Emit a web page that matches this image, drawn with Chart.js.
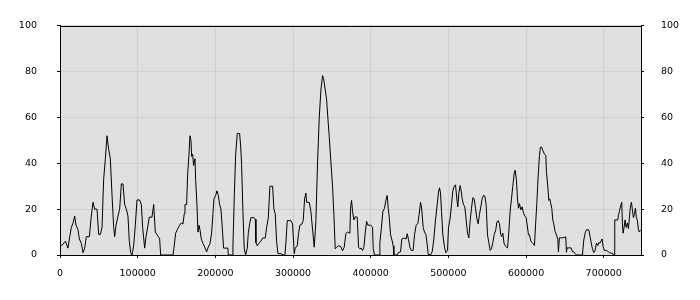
<!DOCTYPE html>
<html>
<head>
<meta charset="utf-8">
<script src="https://cdn.jsdelivr.net/npm/chart.js"></script>
<style>
  body { margin: 0; background: #fff; }
</style>
</head>
<body>
<canvas id="chart" width="700" height="300"></canvas>
<script>
// x positions of the samples
const xValues = [
    0, 2000, 6900, 10300, 12500, 14600, 16800, 18900, 20600, 23200, 24900, 27500, 29600, 31800, 33900, 37800,
    40000, 42500, 44650, 47650, 49800, 52000, 54100, 56200, 58400, 60500, 62700, 64800, 67000, 69100, 70400,
    72100, 74700, 76800, 79000, 81100, 83250, 85400, 87500, 89250, 91000, 92700, 94800, 97000, 99100, 102600,
    104700, 106400, 109000, 110700, 113300, 115000, 118400, 120600, 122700, 126600, 128300, 129600, 145450,
    146700, 148900, 151000, 154000, 156200, 158300, 160000, 160900, 163000, 164300, 166000, 167300, 168600,
    169500, 170800, 172000, 173800, 174600, 176300, 177600, 178900, 180200, 181900, 184100, 186200, 188800,
    190900, 193100, 195200, 196900, 198200, 200400, 202100, 203800, 205500, 207200, 208900, 210600, 216200,
    216650, 221800, 222650, 224400, 226100, 228200, 231200, 232500, 233800, 235500, 237200, 239000, 241100,
    242400, 244100, 245800, 249700, 251400, 252250, 253960, 256540, 258680, 260830, 264260, 265970, 268120,
    270260, 273700, 275410, 277120, 278840, 280560, 284420, 287420, 289560, 290850, 292560, 297280, 299430,
    301570, 302860, 305430, 307150, 308860, 311440, 313150, 314870, 316580, 317440, 320870, 323020, 326020,
    327310, 329450, 331600, 333740, 335890, 338030, 339320, 341460, 343180, 344890, 346610, 348750, 350900,
    352610, 354330, 356040, 358620, 361620, 363760, 365910, 368050, 370190, 373200, 374070, 375360, 376640,
    378360, 380070, 382650, 384360, 386080, 387790, 389510, 391230, 392940, 394660, 396370, 399800, 402380,
    403240, 404950, 410960, 411810, 413530, 415670, 417820, 419530, 421250, 422540, 423820, 425540, 427680,
    428970, 429830, 434120, 435400, 438400, 440120, 442690, 445700, 446980, 448700, 450410, 452130, 454700,
    456420, 458560, 460710, 462420, 464140, 465420, 467570, 469280, 471000, 472720, 474000, 477010, 479150,
    481300, 483440, 485590, 487300, 488590, 489870, 491160, 492870, 495020, 496730, 498890, 500180, 502320,
    504040, 505750, 507470, 509180, 510900, 512190, 513470, 515190, 516480, 517760, 519480, 521190, 522910,
    524620, 526340, 528060, 529770, 531490, 533200, 534920, 536630, 538350, 540060, 541780, 543500, 545210,
    546930, 548640, 550360, 552070, 553790, 555500, 557220, 558940, 561080, 562370, 564080, 565800, 567510,
    568800, 570090, 571800, 573950, 576090, 577810, 579520, 581240, 582950, 584670, 585960, 587670, 588960,
    590250, 591530, 593250, 594960, 596680, 598390, 600110, 601830, 603110, 604400, 606120, 607830, 609550,
    610830, 612120, 613840, 615550, 617270, 618550, 620270, 621560, 623710, 625430, 626280, 628000, 629290,
    630570, 631860, 633150, 634430, 635720, 637430, 639150, 640870, 641720, 643010, 647300, 651160, 652020,
    652870, 658020, 659740, 661450, 663170, 664880, 672600, 674320, 676040, 677750, 680750, 682470, 684180,
    685470, 687190, 688900, 690620, 692330, 693620, 695330, 696620, 697910, 699200, 700910, 703480, 706060,
    707350, 711640, 712490, 713350, 714210, 718070, 718920, 720210, 721500, 723210, 724070, 724930, 726210,
    727500, 728790, 730500, 731790, 733080, 734360, 735650, 736940, 738220, 739510, 740800, 742080, 743370,
    744660, 745950, 747230
];

// sample values (0-100)
const yValues = [
    4, 4, 6, 3, 8, 12, 14, 17, 13, 11, 7, 5, 1, 3, 8, 8,
    16, 23, 20, 20, 9, 9, 12, 33, 42, 52, 46, 42, 26, 12, 8,
    13, 17, 20, 31, 31, 22, 20, 17, 6, 1, 0, 4, 13, 24, 24,
    22, 12, 3, 8, 13, 16.5, 16.5, 22, 10, 8, 7, 0, 0,
    3, 9.5, 11, 13, 14, 13.5, 18, 22, 22, 35, 43.5, 52, 50,
    43, 44, 39, 42, 33, 22, 10, 13, 11, 7, 5, 3.5, 1.4,
    3.5, 5, 9.5, 18, 24.5, 26, 28, 26, 22, 20, 12, 3, 3,
    0, 0, 4, 26, 43.5, 53, 53, 48, 39.5, 19, 2.7, 0, 3,
    9.5, 13.6, 16.3, 16.3, 15.6, 5.4, 4, 5.4, 6, 7.4, 7.4, 12, 16,
    30, 30, 20, 18, 6, 0.6, 0.6, 0, 0, 5.4, 15, 15, 13.5,
    0.6, 3, 4, 9.4, 13, 13.5, 15, 24.4, 27, 23, 23, 19, 8,
    3.4, 15, 40.6, 59.7, 72, 78.2, 77, 72, 68, 59.7, 51.7, 40.6, 30,
    17.6, 2.7, 3.4, 4, 3.7, 1.8, 3.4, 9.4, 10, 9.5, 20.4, 23.8, 19,
    15.3, 16.7, 16.5, 3.4, 2.7, 3, 2, 3.4, 9.5, 14.7, 13, 13, 12.2,
    2.7, 0, 0, 5.4, 11, 19, 20.4, 23.8, 26, 20.4, 16.7, 8.8, 6.1,
    4, 0, 0, 1, 1.4, 7, 7.4, 7, 9.3, 6.8, 3.4, 2, 2,
    8.8, 13, 13.8, 17.7, 23, 21, 12, 10, 9, 4.8, 0.3, 0, 1.4,
    7, 15.3, 22, 27.5, 29.3, 27, 19, 8.8, 3.4, 1, 2, 12, 16,
    22, 28, 30, 30.6, 24.5, 21, 27, 30.3, 28, 24.5, 22, 21, 15.3,
    9.5, 7.5, 15, 20.4, 25, 24.5, 20.4, 16, 13.6, 17.7, 21, 24.5, 26,
    25.7, 22, 8.8, 5.4, 2, 2.7, 5.4, 8.8, 11, 14.3, 15, 13.6, 8.8,
    8, 9.5, 4.8, 3.8, 3, 10, 19, 24.5, 30, 35.4, 37, 32.6, 24.5,
    20.4, 22.4, 19.7, 21, 18.4, 17, 16.3, 12.2, 8.8, 8.8, 6.1, 5.4, 4.8,
    4.1, 12.2, 22.4, 34, 43.5, 47, 47, 45.6, 44, 43.5, 36, 30, 23.8,
    24.5, 22.4, 20.4, 15.3, 13.6, 10.2, 8.8, 6.8, 1.4, 7.5, 7.5, 7.9, 1.2,
    3.1, 3.1, 1.4, 1.4, 0.7, 0, 0, 6.5, 9.5, 11, 11, 8, 4.8,
    2.7, 1.1, 2, 5.2, 4.1, 5.4, 5.2, 6.1, 7, 3.7, 2, 2, 1.4,
    1, 0.7, 0, 0, 15.3, 15.3, 17.3, 19, 21, 23, 13.6, 9.5, 12,
    15.3, 12, 14, 11.4, 16.3, 21, 23, 19.7, 16.3, 17.7, 20.4, 16.3, 15,
    11, 10, 11
];

// tick labels
const xTicks = [0, 100000, 200000, 300000, 400000, 500000, 600000, 700000];
const yTicks = [0, 20, 40, 60, 80, 100];
const xMax = 748000;

const points = xValues.map((x, i) => ({ x: x, y: yValues[i] }));

// fond cinza da área do gráfico + borda superior
const plotFrame = {
    id: 'plotFrame',
    beforeDraw(chart) {
        const a = chart.chartArea;
        const ctx = chart.ctx;
        ctx.save();
        ctx.fillStyle = '#e0e0e0';
        ctx.fillRect(a.left, a.top, a.right - a.left, a.bottom - a.top);
        ctx.restore();
    },
    afterDraw(chart) {
        const a = chart.chartArea;
        const ctx = chart.ctx;
        ctx.save();
        ctx.strokeStyle = '#000';
        ctx.lineWidth = 1;
        ctx.beginPath();
        ctx.moveTo(a.left, Math.round(a.top) + 0.5);
        ctx.lineTo(a.right, Math.round(a.top) + 0.5);
        ctx.stroke();
        ctx.restore();
    }
};

const tickFont = { family: 'DejaVu Sans', size: 9.5 };

new Chart(document.getElementById('chart'), {
    type: 'line',
    data: {
        datasets: [{
            data: points,
            borderColor: '#000',
            borderWidth: 1,
            pointRadius: 0,
            tension: 0,
            fill: false
        }]
    },
    options: {
        responsive: false,
        animation: false,
        layout: { padding: { top: 10, left: 0, right: 0, bottom: 0 } },
        plugins: {
            legend: { display: false },
            tooltip: { enabled: false }
        },
        scales: {
            x: {
                type: 'linear',
                min: 0,
                max: xMax,
                afterBuildTicks: s => { s.ticks = xTicks.map(v => ({ value: v })); },
                afterFit: s => { s.height = 45; },
                grid: { color: '#d0d0d0', tickColor: '#000', tickLength: 3 },
                border: { color: '#000' },
                ticks: {
                    autoSkip: false,
                    maxRotation: 0,
                    padding: 10,
                    color: '#000',
                    font: tickFont,
                    callback: v => String(v)
                }
            },
            y: {
                position: 'left',
                min: 0,
                max: 100,
                afterBuildTicks: s => { s.ticks = yTicks.map(v => ({ value: v })); },
                afterFit: s => { s.width = 60; },
                grid: { color: '#d0d0d0', tickColor: '#000', tickLength: 3 },
                border: { color: '#000' },
                ticks: { padding: 20, color: '#000', font: tickFont }
            },
            y2: {
                position: 'right',
                min: 0,
                max: 100,
                afterBuildTicks: s => { s.ticks = yTicks.map(v => ({ value: v })); },
                afterFit: s => { s.width = 59; },
                grid: { drawOnChartArea: false, tickColor: '#000', tickLength: 3 },
                border: { color: '#000' },
                ticks: { padding: 17, color: '#000', font: tickFont }
            }
        }
    },
    plugins: [plotFrame]
});
</script>
</body>
</html>
